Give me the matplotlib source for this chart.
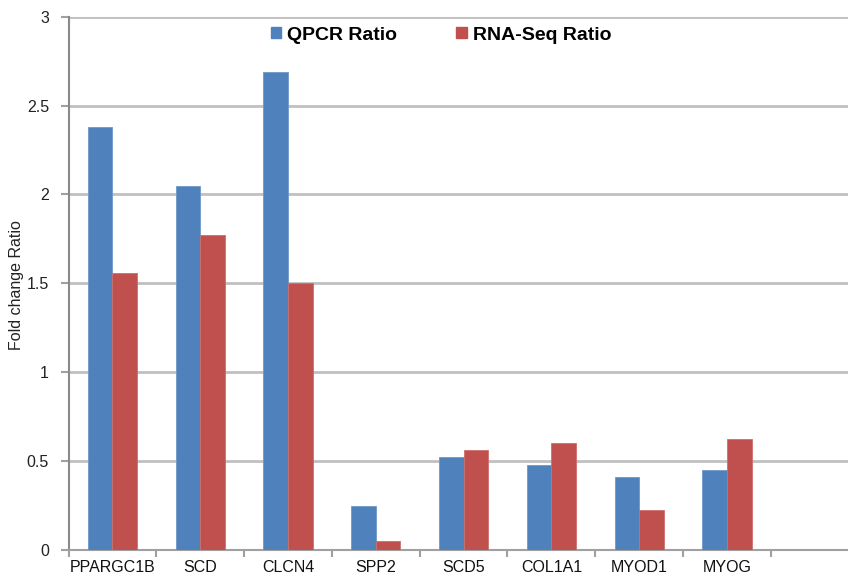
import matplotlib
matplotlib.use("Agg")
import matplotlib.pyplot as plt
import numpy as np
from matplotlib.patches import Patch

genes = ["PPARGC1B", "SCD", "CLCN4", "SPP2", "SCD5", "COL1A1", "MYOD1", "MYOG"]
qpcr = [2.38, 2.05, 2.69, 0.25, 0.525, 0.48, 0.41, 0.45]
rnaseq = [1.56, 1.77, 1.50, 0.05, 0.565, 0.60, 0.225, 0.625]
yticks = [0, 0.5, 1, 1.5, 2, 2.5, 3]
ytick_labels = ["0", "0.5", "1", "1.5", "2", "2.5", "3"]

plt.rcParams['font.family'] = ['Liberation Sans', 'DejaVu Sans']

fig = plt.figure(figsize=(8.48, 5.76), dpi=100)
ax = fig.add_axes([68.5/848, 26/576, 9*87.8/848, 533.3/576])

blue = "#4F81BD"
red = "#C0504D"
x = np.arange(len(genes))
w = 0.28
ax.bar(x - w/2, qpcr, w, color=blue, edgecolor="#6f97c8", linewidth=0.6, zorder=3)
ax.bar(x + w/2, rnaseq, w, color=red, edgecolor="#cf6e6b", linewidth=0.6, zorder=3)

ax.set_xlim(-0.5, 8.5)
ax.set_ylim(0, 3)
ax.set_yticks(yticks)
ax.set_yticklabels(ytick_labels, fontsize=11.5, color="#222222")
ax.set_xticks(x)
ax.set_xticklabels(genes, fontsize=11.5, color="#111111")
ax.tick_params(axis='x', which='major', length=0, pad=7)
ax.set_xticks(np.arange(-0.5, 9, 1), minor=True)
ax.tick_params(axis='x', which='minor', length=5, width=1.5, color="#a0a0a0", direction='out')
ax.tick_params(axis='y', length=6, width=1.5, color="#a0a0a0", pad=8)

ax.yaxis.grid(True, color="#c0c0c0", linewidth=2, zorder=0)
ax.set_axisbelow(True)
for s in ["top", "right"]:
    ax.spines[s].set_visible(False)
ax.spines["left"].set_color("#8a8a8a")
ax.spines["left"].set_linewidth(1.5)
ax.spines["bottom"].set_color("#a0a0a0")
ax.spines["bottom"].set_linewidth(1.5)

fig.text(17/848, 1 - 285/576, "Fold change Ratio", rotation=90, ha="center", va="center",
         fontsize=11.5, color="#222222")

handles = [Patch(facecolor=blue, edgecolor=blue), Patch(facecolor=red, edgecolor=red)]
fig.legend(handles, ["QPCR Ratio", "RNA-Seq Ratio"], loc="center",
           bbox_to_anchor=(441/848, 1 - 35/576), ncol=2, frameon=False,
           handlelength=0.55, handleheight=0.55, handletextpad=0.3, columnspacing=3.05,
           prop={'weight': 'bold', 'size': 14})

fig.savefig("out.png", dpi=100, facecolor="white")
